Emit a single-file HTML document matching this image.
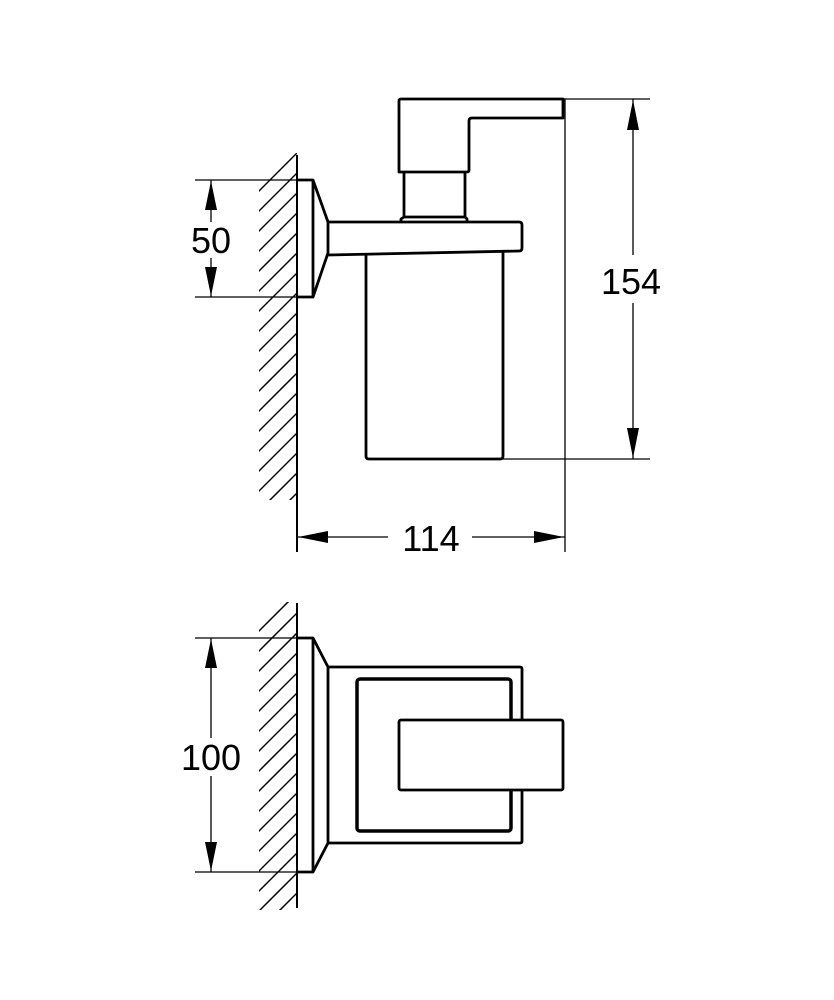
<!DOCTYPE html>
<html><head><meta charset="utf-8"><style>
html,body{margin:0;padding:0;background:#fff;}
svg{display:block;}
text{font-family:"Liberation Sans",sans-serif;font-size:36px;fill:#000;}
</style></head><body>
<svg width="834" height="1000" viewBox="0 0 834 1000" xmlns="http://www.w3.org/2000/svg">
<defs>
<clipPath id="h1"><rect x="259" y="153" width="38" height="347"/></clipPath>
<clipPath id="h2"><rect x="259" y="602" width="38" height="308"/></clipPath>
</defs>
<g stroke="#000" stroke-width="1.5" clip-path="url(#h1)">
<path d="M250 200L310 140M250 220L310 160M250 240L310 180M250 260L310 200M250 280L310 220M250 300L310 240M250 320L310 260M250 340L310 280M250 360L310 300M250 380L310 320M250 400L310 340M250 420L310 360M250 440L310 380M250 460L310 400M250 480L310 420M250 500L310 440M250 520L310 460M250 540L310 480M250 560L310 500"/>
</g>
<g stroke="#000" stroke-width="1.5" clip-path="url(#h2)">
<path d="M250 640L310 580M250 660L310 600M250 680L310 620M250 700L310 640M250 720L310 660M250 740L310 680M250 760L310 700M250 780L310 720M250 800L310 740M250 820L310 760M250 840L310 780M250 860L310 800M250 880L310 820M250 900L310 840M250 920L310 860M250 940L310 880"/>
</g>
<!-- walls -->
<line x1="297" y1="155" x2="297" y2="552" stroke="#000" stroke-width="2"/>
<line x1="297" y1="603" x2="297" y2="908" stroke="#000" stroke-width="2"/>
<g fill="none" stroke="#000" stroke-width="2.8" stroke-linejoin="round">
<!-- top view rosette -->
<path d="M297 180H313L328 222V253L313 297H297"/>
<line x1="313" y1="180" x2="313" y2="297"/>
<!-- arm -->
<path d="M328 222H519Q522 222 522 225V248Q522 251 519 251L328 255"/>
<!-- bottle -->
<path d="M366 254V456Q366 459 369 459H500Q503 459 503 456V251"/>
<!-- neck -->
<path d="M401 222V219L404 217H465L467 219V222"/>
<path d="M404 217V172M465 217V172"/>
<!-- head -->
<path d="M399 172V101Q399 99 401 99H563V118H472Q469 118 469 121V170Q469 172 467 172Z"/>
<!-- bottom view -->
<path d="M297 638H313L328 667V843L313 872H297"/>
<line x1="313" y1="638" x2="313" y2="872"/>
<path d="M328 667H520Q522 667 522 669V841Q522 843 520 843H328"/>
<rect x="357" y="679" width="154" height="152" rx="3" stroke-width="3.5"/>
<rect x="399" y="720" width="164" height="70" rx="2" fill="#fff"/>
</g>
<g stroke="#000" stroke-width="1.3" fill="none">
<!-- 154 dim -->
<line x1="563" y1="99" x2="650" y2="99"/>
<line x1="503" y1="459" x2="650" y2="459"/>
<line x1="565" y1="99" x2="565" y2="552"/>
<line x1="633" y1="99" x2="633" y2="255"/>
<line x1="633" y1="303" x2="633" y2="459"/>
<!-- 114 dim -->
<line x1="297" y1="537" x2="388" y2="537"/>
<line x1="472" y1="537" x2="565" y2="537"/>
<!-- 50 dim -->
<line x1="195" y1="180" x2="297" y2="180"/>
<line x1="195" y1="297" x2="297" y2="297"/>
<line x1="211" y1="180" x2="211" y2="222"/>
<line x1="211" y1="258" x2="211" y2="297"/>
<!-- 100 dim -->
<line x1="195" y1="638" x2="297" y2="638"/>
<line x1="195" y1="872" x2="297" y2="872"/>
<line x1="211" y1="638" x2="211" y2="738"/>
<line x1="211" y1="776" x2="211" y2="872"/>
</g>
<g fill="#000">
<path d="M633 100L627 130H639Z"/><path d="M633 458L627 428H639Z"/>
<path d="M298 537L328 531V543Z"/><path d="M564 537L534 531V543Z"/>
<path d="M211 181L205 210H217Z"/><path d="M211 296L205 267H217Z"/>
<path d="M211 639L205 668H217Z"/><path d="M211 871L205 842H217Z"/>
</g>
<text x="631" y="294" text-anchor="middle">154</text>
<text x="431" y="551" text-anchor="middle">114</text>
<text x="211" y="253" text-anchor="middle">50</text>
<text x="211" y="770" text-anchor="middle">100</text>
</svg>
</body></html>
